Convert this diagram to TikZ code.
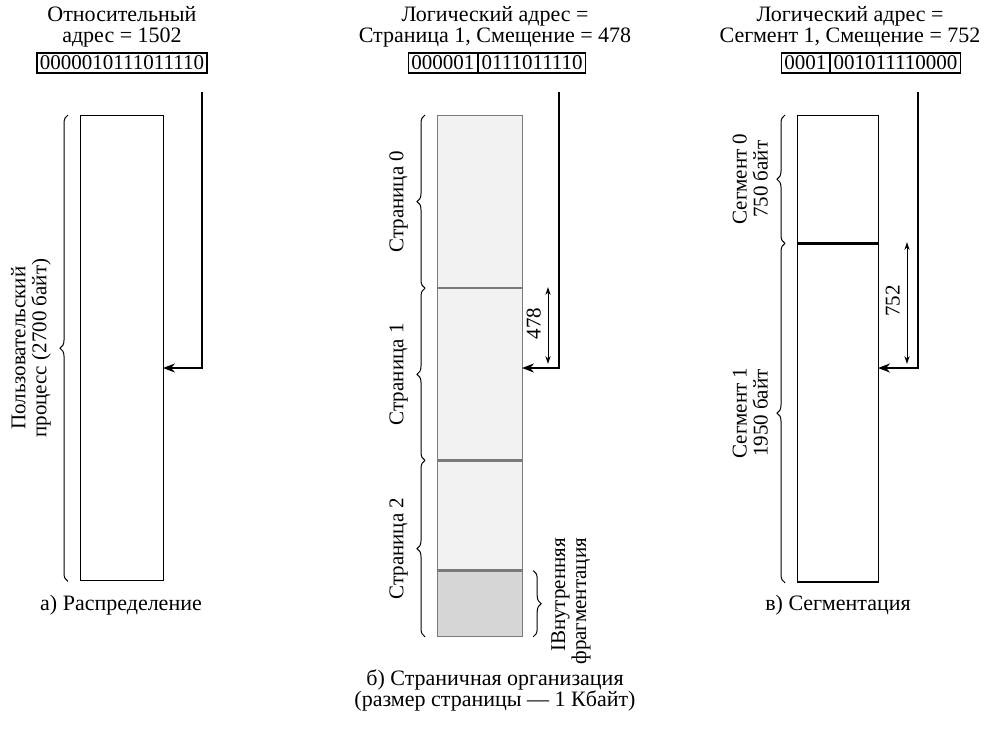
\documentclass[tikz,border=0pt]{standalone}
\usepackage{fontspec}
\setmainfont{Liberation Serif}
\usetikzlibrary{positioning,decorations.pathreplacing,arrows.meta}

\definecolor{pagefill}{HTML}{F2F2F2}
\definecolor{fragfill}{HTML}{D6D6D6}
\definecolor{pageline}{HTML}{7A7A7A}

\begin{document}
\begin{tikzpicture}[
    x=0.5pt,y=-0.5pt,
    font=\fontsize{11}{10.5}\selectfont,
    addr/.style={draw,line width=0.6pt,minimum height=10pt,inner xsep=1.5pt,inner ysep=0pt,font=\fontsize{10.5}{10.5}\selectfont},
    block/.style={draw,line width=0.7pt,inner sep=0pt,anchor=north west},
    page/.style={draw=pageline,fill=pagefill,line width=0.6pt,inner sep=0pt,minimum width=42.5pt},
    brc/.style={decorate,decoration={brace,amplitude=4pt},line width=0.5pt},
    ptr/.style={-{Stealth[length=6pt,width=4.5pt]},line width=1.1pt},
    dim/.style={{Stealth[length=4pt,width=2.6pt]}-{Stealth[length=4pt,width=2.6pt]},line width=0.5pt},
    side/.style={rotate=90,align=center,font=\fontsize{10.5}{10.5}\selectfont}
]
\useasboundingbox (0,0) rectangle (986,729);

% a) single block
\node[align=center] (tl) at (122,27) {Относительный\\адрес = 1502};
\node[addr] (al) at (122,63) {0000010111011110};
\node[block,minimum width=41.5pt,minimum height=232.5pt] (proc) at (80,115) {};
\draw[brc] ([xshift=-6pt]proc.south west) -- ([xshift=-6pt]proc.north west)
    node[midway,side,left=5pt,anchor=south] (lproc) {Пользовательский\\процесс (2700 байт)};
\coordinate (s1) at (202,92);
\coordinate (h1) at (163,368);
\draw[ptr] (s1) |- (h1);
\node (ca) at (121,605) {а) Распределение};

% b) pages
\node[align=center] (tm) at (495,27) {Логический адрес =\\Страница 1, Смещение = 478};
\node[addr,anchor=east] (ap) at (478,63) {000001};
\node[addr,anchor=west] (ao) at (ap.east) {0111011110};
\node[page,minimum height=86pt,anchor=north west] (p0) at (437,115) {};
\node[page,minimum height=85.5pt,below=0pt of p0] (p1) {};
\node[page,minimum height=54.5pt,below=0pt of p1] (p2) {};
\node[page,fill=fragfill,minimum height=32.5pt,below=0pt of p2] (fr) {};
\draw[brc] ([xshift=-6pt]p0.south west) -- ([xshift=-6pt]p0.north west)
    node[midway,side,left=5pt,anchor=south] (lp0) {Страница 0};
\draw[brc] ([xshift=-6pt]p1.south west) -- ([xshift=-6pt]p1.north west)
    node[midway,side,left=5pt,anchor=south] (lp1) {Страница 1};
\draw[brc] ([xshift=-6pt]fr.south west) -- ([xshift=-6pt]p2.north west)
    node[midway,side,left=5pt,anchor=south] (lp2) {Страница 2};
\draw[brc] ([xshift=5pt]fr.north east) -- ([xshift=5pt]fr.south east);
\node[side,align=right,anchor=east] (lfr) at (571,531) {IВнутренняя\\фрагментация};
\coordinate (s2) at (559,92);
\coordinate (h2) at (522,368);
\draw[ptr] (s2) |- (h2);
\coordinate (d2a) at (548,287);
\coordinate (d2b) at (548,364);
\draw[dim] (d2a) -- (d2b) node[midway,side,above=1pt,anchor=south] (l478) {478};
\node[align=center] (cb) at (495,690) {б) Страничная организация\\(размер страницы --- 1 Кбайт)};

% c) segments
\node[align=center] (tr) at (850,27) {Логический адрес =\\Сегмент 1, Смещение = 752};
\node[addr,anchor=east] (as) at (830,63) {0001};
\node[addr,anchor=west] (aso) at (as.east) {001011110000};
\node[block,minimum width=40.5pt,minimum height=63.5pt] (s0) at (797,115) {};
\node[block,minimum width=40.5pt,minimum height=169pt,below=0pt of s0,anchor=north] (sg1) {};
\draw[brc] ([xshift=-6pt]s0.south west) -- ([xshift=-6pt]s0.north west)
    node[midway,side,left=5pt,anchor=south] (ls0) {Сегмент 0\\750 байт};
\draw[brc] ([xshift=-6pt]sg1.south west) -- ([xshift=-6pt]sg1.north west)
    node[midway,side,left=5pt,anchor=south] (ls1) {Сегмент 1\\1950 байт};
\coordinate (s3) at (918,92);
\coordinate (h3) at (878,368);
\draw[ptr] (s3) |- (h3);
\coordinate (d3a) at (907,242);
\coordinate (d3b) at (907,364);
\draw[dim] (d3a) -- (d3b) node[midway,side,above=1pt,anchor=south] (l752) {752};
\node (cc) at (838,605) {в) Сегментация};
\end{tikzpicture}
\end{document}
